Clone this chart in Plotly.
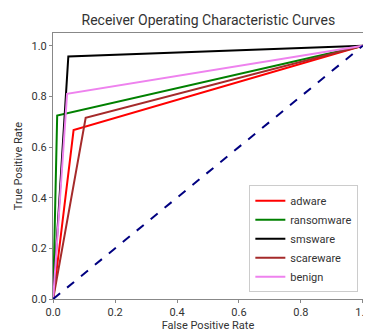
import plotly.graph_objects as go

classes = ["adware", "ransomware", "smsware", "scareware", "benign"]
colors = ["red", "green", "black", "brown", "violet"]
fpr = [[0.0, 0.066, 1.0], [0.0, 0.013, 1.0], [0.0, 0.049, 1.0], [0.0, 0.105, 1.0], [0.0, 0.045, 1.0]]
tpr = [[0.0, 0.667, 1.0], [0.0, 0.724, 1.0], [0.0, 0.957, 1.0], [0.0, 0.715, 1.0], [0.0, 0.81, 1.0]]
diag = [0.0, 1.0]
ticks = [0.0, 0.2, 0.4, 0.6, 0.8, 1.0]
tick_text = ["0.0", "0.2", "0.4", "0.6", "0.8", "1.0"]

FONT = "Liberation Sans Narrow, Roboto, DejaVu Sans, sans-serif"

fig = go.Figure()
for name, c, x, y in zip(classes, colors, fpr, tpr):
    fig.add_trace(go.Scatter(x=x, y=y, mode="lines", name=name,
                             line=dict(color=c, width=2)))
fig.add_trace(go.Scatter(x=diag, y=diag, mode="lines", showlegend=False,
                         line=dict(color="navy", width=2, dash="dash")))

axis_common = dict(showgrid=False, zeroline=False, showline=True, mirror=True,
                   linecolor="#888", linewidth=1, ticks="outside", ticklen=3,
                   tickcolor="#888", tickfont=dict(family=FONT, size=11, color="#333"),
                   tickvals=ticks, ticktext=tick_text, ticklabeloverflow="allow")

fig.update_layout(
    width=371, height=334,
    margin=dict(l=45, r=9, t=25, b=43),
    paper_bgcolor="white", plot_bgcolor="white",
    title=dict(text="Receiver Operating Characteristic Curves", x=0.54, xanchor="center",
               y=0.965, yanchor="middle", font=dict(family=FONT, size=14, color="#333")),
    xaxis=dict(range=[-0.0005, 1.0005], title=dict(text="False Positive Rate", standoff=2,
               font=dict(family=FONT, size=11, color="#333")), **axis_common),
    yaxis=dict(range=[0, 1.05], title=dict(text="True Positive Rate", standoff=6,
               font=dict(family=FONT, size=11, color="#333")), **axis_common),
    legend=dict(x=0.985, y=0.025, xanchor="right", yanchor="bottom",
                bgcolor="white", bordercolor="#ccc", borderwidth=1,
                font=dict(family=FONT, size=11, color="#333"), tracegroupgap=0,
                itemwidth=30),
    showlegend=True,
)

fig.write_html("out.html")
